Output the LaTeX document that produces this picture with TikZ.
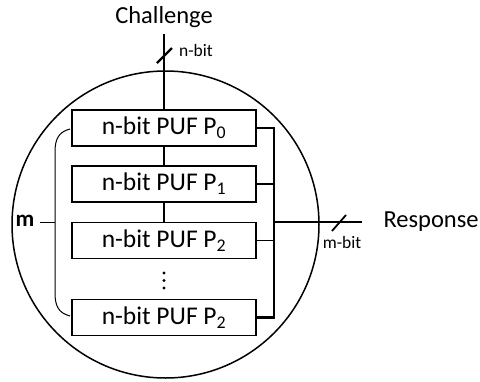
\documentclass[tikz,border=0pt]{standalone}
\usepackage{fontspec}
\setmainfont{Carlito}
\begin{document}
\begin{tikzpicture}[x=1pt,y=-1pt,
  puf/.style={draw,line width=1.5pt,minimum width=184pt,minimum height=36pt,inner sep=0pt,font=\fontsize{25.5}{28}\selectfont},
  bus/.style={line width=2.8pt},
  wire/.style={line width=1.2pt},
  big/.style={font=\fontsize{24.5}{28}\selectfont},
  small/.style={font=\fontsize{17.5}{20}\selectfont}]
\useasboundingbox (0,0) rectangle (480,381);
% enclosing circle
\node[draw,circle,line width=1.5pt,minimum size=307pt,inner sep=0pt] (ring) at (165.5,224.5) {};
% the PUF stages
\node[puf] (p0) at (164,128) {n-bit PUF P\textsubscript{0}};
\node[puf] (p1) at (164,184) {n-bit PUF P\textsubscript{1}};
\node[puf] (p2) at (164,240.5) {n-bit PUF P\textsubscript{2}};
\node[puf] (p3) at (164,317.5) {n-bit PUF P\textsubscript{2}};
% challenge input
\node[big] (chal) at (164,17) {Challenge};
\coordinate (cin) at (164,34);
\draw[bus] (cin) -- (p0.north);
\coordinate (cs1) at (157,63);
\coordinate (cs2) at (172,48);
\draw[line width=2.2pt] (cs1) -- (cs2);
\node[small] (nbit) at (196,50) {n-bit};
% links between stages
\draw[wire] (p0.south) -- (p1.north);
\draw[wire] (p1.south) -- (p2.north);
\foreach \y in {273,280.5,288} \fill (164,\y) circle (1.6pt);
% response bus
\coordinate (bt) at (274,128);
\coordinate (b1) at (274,184);
\coordinate (b2) at (274,240.5);
\coordinate (bb) at (274,317.5);
\coordinate (bm) at (274,222);
\coordinate (rout) at (362,222);
\draw[bus,line width=2.4pt] (p0.east) -- (bt) -- (bb) -- (p3.east);
\draw[wire] (p1.east) -- (b1);
\draw[wire] (p2.east) -- (b2);
\draw[bus] (bm) -- (rout);
\coordinate (rs1) at (332,231);
\coordinate (rs2) at (346,215);
\draw[line width=1.8pt] (rs1) -- (rs2);
\node[small] (mbit) at (342,242) {m-bit};
\node[big,anchor=west] (resp) at (380,222) {Response};
% bracket counting the stages
\coordinate (kt) at (70,129);
\coordinate (kb) at (70,316);
\coordinate (km) at (55,222);
\draw[line width=1pt] (kt) .. controls (58,132) and (55,140) .. (55,152) -- (55,293) .. controls (55,305) and (58,313) .. (kb);
\node[font=\fontsize{23}{26}\selectfont\bfseries] (m) at (25,221) {m};
\draw[line width=1pt] (40,222) -- (km);
\end{tikzpicture}
\end{document}
